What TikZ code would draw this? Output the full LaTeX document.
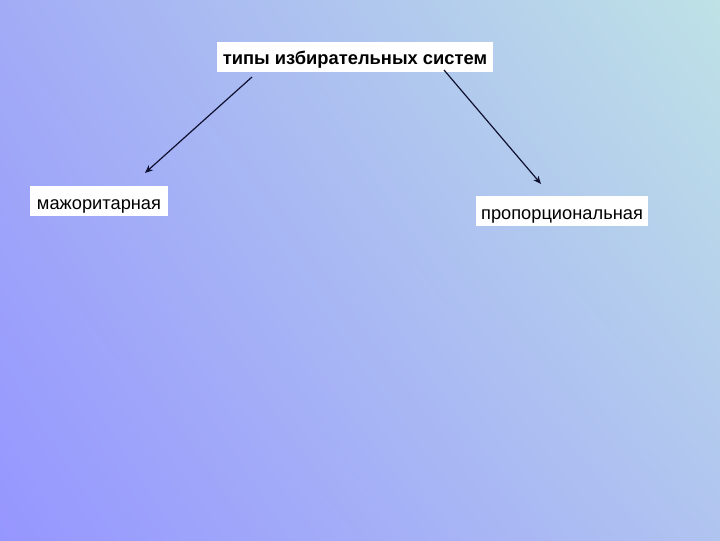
\documentclass[tikz,border=0pt]{standalone}
\usepackage{fontspec}
\setmainfont{Liberation Sans}
\usetikzlibrary{arrows.meta,shadings}
\definecolor{bgTL}{RGB}{162,172,246}
\definecolor{bgTR}{RGB}{190,226,230}
\definecolor{bgBL}{RGB}{150,150,255}
\definecolor{bgBR}{RGB}{176,196,240}
\definecolor{arrowc}{RGB}{16,16,48}
\tikzset{
  labelbox/.style={fill=white, inner sep=0pt, text height=13.5pt, text depth=1.5pt, font=\fontsize{13.7pt}{15pt}\selectfont, text=black},
  conn/.style={draw=arrowc, line width=0.9pt, -{Stealth[length=6pt,width=5pt]}}
}
\begin{document}
\begin{tikzpicture}[x=0.75pt,y=-0.75pt]
\shade[upper left=bgTL, upper right=bgTR, lower left=bgBL, lower right=bgBR] (0,0) rectangle (720,540);
\useasboundingbox (0,0) rectangle (720,540);
\node[labelbox, minimum width=207pt, minimum height=22.5pt, font=\fontsize{13.75pt}{15pt}\selectfont\bfseries] (top) at (355,56.5) {типы избирательных систем};
\node[labelbox, minimum width=103.5pt, minimum height=22.5pt] (maj) at (99,201) {мажоритарная};
\node[labelbox, minimum width=129pt, minimum height=22pt] (prop) at (562,211) {пропорциональная};
\coordinate (s1) at (252,77);
\coordinate (e1) at (145,173);
\coordinate (s2) at (444,70);
\coordinate (e2) at (541,184);
\draw[conn] (s1) -- (e1);
\draw[conn] (s2) -- (e2);
\end{tikzpicture}
\end{document}
